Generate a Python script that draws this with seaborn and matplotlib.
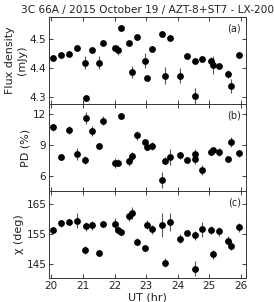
import numpy as np
import pandas as pd
import matplotlib
matplotlib.use("Agg")
import matplotlib.pyplot as plt
import seaborn as sns

ut = [20.06, 20.31, 20.55, 20.82, 21.06, 21.10, 21.30, 21.51, 21.64, 22.02, 22.10,
      22.20, 22.46, 22.56, 22.71, 22.95, 23.02, 23.17, 23.49, 23.60, 23.76, 24.08,
      24.28, 24.53, 24.55, 24.78, 25.05, 25.13, 25.31, 25.58, 25.68, 25.94]

flux = [4.436, 4.444, 4.449, 4.469, 4.419, 4.298, 4.461, 4.419, 4.486, 4.469, 4.462,
        4.536, 4.486, 4.386, 4.507, 4.426, 4.367, 4.466, 4.516, 4.375, 4.503, 4.375,
        4.441, 4.425, 4.305, 4.433, 4.424, 4.411, 4.408, 4.380, 4.339, 4.444]
flux_err = [0.008, 0.008, 0.008, 0.008, 0.022, 0.008, 0.008, 0.022, 0.008, 0.010, 0.016,
            0.008, 0.008, 0.020, 0.008, 0.025, 0.008, 0.010, 0.010, 0.030, 0.008, 0.027,
            0.008, 0.008, 0.028, 0.008, 0.015, 0.030, 0.008, 0.015, 0.025, 0.010]

pd_ = [10.70, 7.82, 10.44, 8.14, 7.56, 11.64, 10.38, 8.86, 11.38, 7.23, 7.26,
       11.80, 7.46, 7.88, 9.93, 9.25, 8.79, 8.86, 5.58, 7.46, 7.79, 7.98,
       7.56, 8.14, 7.65, 6.55, 8.33, 8.53, 8.30, 7.59, 9.28, 8.18]
pd_err = [0.3, 0.3, 0.4, 0.6, 0.4, 0.6, 0.5, 0.3, 0.45, 0.5, 0.35,
          0.3, 0.5, 0.45, 0.45, 0.35, 0.3, 0.4, 0.8, 0.35, 0.8, 0.35,
          0.3, 0.45, 0.5, 0.5, 0.3, 0.3, 0.4, 0.3, 0.5, 0.35]

chi = [156.5, 158.6, 159.0, 159.5, 149.7, 157.7, 158.0, 148.7, 158.3, 158.5, 156.4,
       155.6, 161.0, 162.1, 152.5, 150.3, 158.1, 156.7, 158.2, 145.4, 159.2, 153.5,
       155.5, 154.6, 143.4, 156.7, 156.4, 148.3, 156.0, 152.8, 151.1, 157.3]
chi_err = [1.0, 1.2, 1.0, 2.5, 1.5, 1.5, 1.5, 1.0, 1.0, 2.0, 1.5,
           1.0, 1.5, 2.0, 1.2, 1.0, 1.5, 1.5, 4.0, 1.5, 3.0, 1.5,
           1.0, 1.5, 2.5, 2.5, 1.5, 1.5, 1.5, 1.5, 1.5, 1.5]

ylabels = ["Flux density\n(mJy)", "PD (%)", "\u03c7 (deg)"]
panel_tags = ["(a)", "(b)", "(c)"]
yticks = [[4.3, 4.4, 4.5], [6, 9, 12], [145, 155, 165]]
ylims = [(4.278, 4.575), (4.5, 13.0), (140.3, 169.5)]
xticks = [20, 21, 22, 23, 24, 25, 26]
title = "3C 66A / 2015 October 19 / AZT-8+ST7 - LX-200"

sns.set_style("ticks")
plt.rcParams["font.family"] = ["DejaVu Sans"]
plt.rcParams["xtick.direction"] = "in"
plt.rcParams["ytick.direction"] = "in"

df = pd.DataFrame({"ut": ut, "flux": flux, "flux_err": flux_err, "pd": pd_,
                   "pd_err": pd_err, "chi": chi, "chi_err": chi_err})

fig, axes = plt.subplots(3, 1, figsize=(2.74, 3.02), dpi=100, sharex=True)
fig.subplots_adjust(left=0.179, right=0.898, top=0.944, bottom=0.0795, hspace=0)

cols = [("flux", "flux_err"), ("pd", "pd_err"), ("chi", "chi_err")]
for i, (ax, (c, e)) in enumerate(zip(axes, cols)):
    ax.errorbar(df["ut"], df[c], yerr=df[e], fmt="none", ecolor="#555555",
                elinewidth=0.8, capsize=0, zorder=1)
    sns.scatterplot(data=df, x="ut", y=c, ax=ax, color="black", s=24,
                    edgecolor="black", linewidth=0, zorder=2)
    ax.set_ylim(*ylims[i])
    ax.set_yticks(yticks[i])
    ax.set_ylabel(ylabels[i], fontsize=8, labelpad=2, color="#222222")
    ax.set_xlabel("")
    ax.tick_params(axis="both", labelsize=7.5, top=True, right=True, length=3,
                   width=0.6, pad=2, labelcolor="#222222")
    for sp in ax.spines.values():
        sp.set_linewidth(0.7)
        sp.set_color("#333333")
    ax.text(0.975, 0.93, panel_tags[i], transform=ax.transAxes, ha="right",
            va="top", fontsize=7)

axes[0].yaxis.set_major_formatter(matplotlib.ticker.FormatStrFormatter("%.1f"))
axes[2].set_xlim(19.93, 26.16)
axes[2].set_xticks(xticks)
axes[2].set_xlabel("UT (hr)", fontsize=8, labelpad=1, color="#222222")
axes[0].set_title(title, fontsize=7.6, pad=3, color="#222222")
for ax in axes[:2]:
    ax.tick_params(labelbottom=False)

fig.savefig("out.png", dpi=100)
